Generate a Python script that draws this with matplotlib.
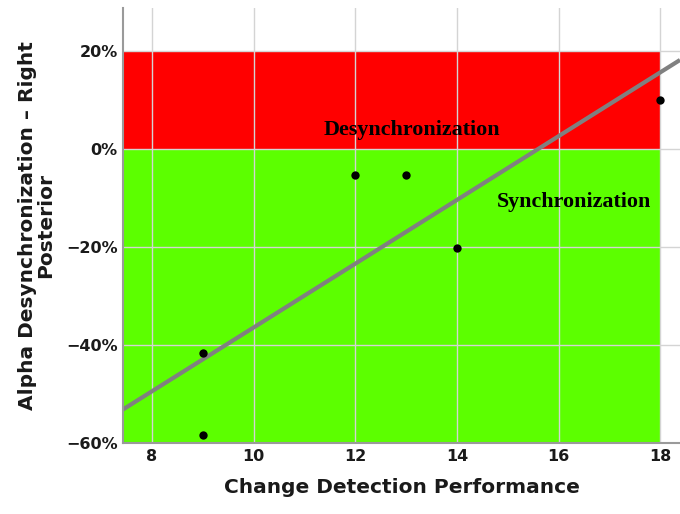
import numpy as np
import matplotlib
matplotlib.use("Agg")
import matplotlib.pyplot as plt
from matplotlib.ticker import FuncFormatter

# Data
performance = [9, 9, 12, 13, 14, 18]
alpha_desync = [-41.6, -58.3, -5.3, -5.3, -20.2, 10.0]
x_ticks = [8, 10, 12, 14, 16, 18]
y_ticks = [-60, -40, -20, 0, 20]
xlim = (7.43, 18.39)
ylim = (-60, 28.8)
desync_band = (0, 20)
sync_band = (-60, 0)
band_xmax = 18

fig = plt.figure(figsize=(6.8, 5.14), dpi=100)
ax = fig.add_axes([0.181, 0.138, 0.819, 0.846])
ax.set_xlim(*xlim)
ax.set_ylim(*ylim)

ax.fill_between([xlim[0], band_xmax], desync_band[0], desync_band[1],
                color="#FF0000", lw=0, zorder=1)
ax.fill_between([xlim[0], band_xmax], sync_band[0], sync_band[1],
                color="#5CFF00", lw=0, zorder=1)

ax.set_xticks(x_ticks)
ax.set_yticks(y_ticks)
ax.grid(True, color="#d4d4d4", lw=1.0, zorder=2)
ax.set_axisbelow(False)
for gl in ax.get_xgridlines() + ax.get_ygridlines():
    gl.set_zorder(2)

# regression line
coef = np.polyfit(performance, alpha_desync, 1)
xs = np.array(xlim)
ax.plot(xs, np.polyval(coef, xs), color="#808080", lw=3, zorder=3,
        solid_capstyle="butt")

ax.scatter(performance, alpha_desync, s=36, color="black", zorder=4,
           linewidths=0)

ax.text(13.12, 3.9, "Desynchronization", family="Liberation Serif",
        fontweight="bold", fontsize=15.8, ha="center", va="center", zorder=5)
ax.text(16.31, -10.8, "Synchronization", family="Liberation Serif",
        fontweight="bold", fontsize=15.8, ha="center", va="center", zorder=5)

ax.yaxis.set_major_formatter(FuncFormatter(lambda v, p: f"{int(v)}%".replace("-", "\u2212")))
ax.tick_params(axis="both", length=0, labelsize=11.5, colors="#1a1a1a", pad=4)
for t in ax.get_xticklabels() + ax.get_yticklabels():
    t.set_fontweight("bold")

for s in ["top", "right"]:
    ax.spines[s].set_visible(False)
for s in ["left", "bottom"]:
    ax.spines[s].set_color("#9a9a9a")
    ax.spines[s].set_linewidth(1.5)
    ax.spines[s].set_zorder(6)

ax.set_xlabel("Change Detection Performance", fontsize=14.5, fontweight="bold",
              color="#1a1a1a", labelpad=10)
ax.set_ylabel("Alpha Desynchronization \u2013 Right\nPosterior", fontsize=14.5,
              fontweight="bold", color="#1a1a1a", labelpad=8, linespacing=0.9)

fig.savefig("out.png", dpi=100)
